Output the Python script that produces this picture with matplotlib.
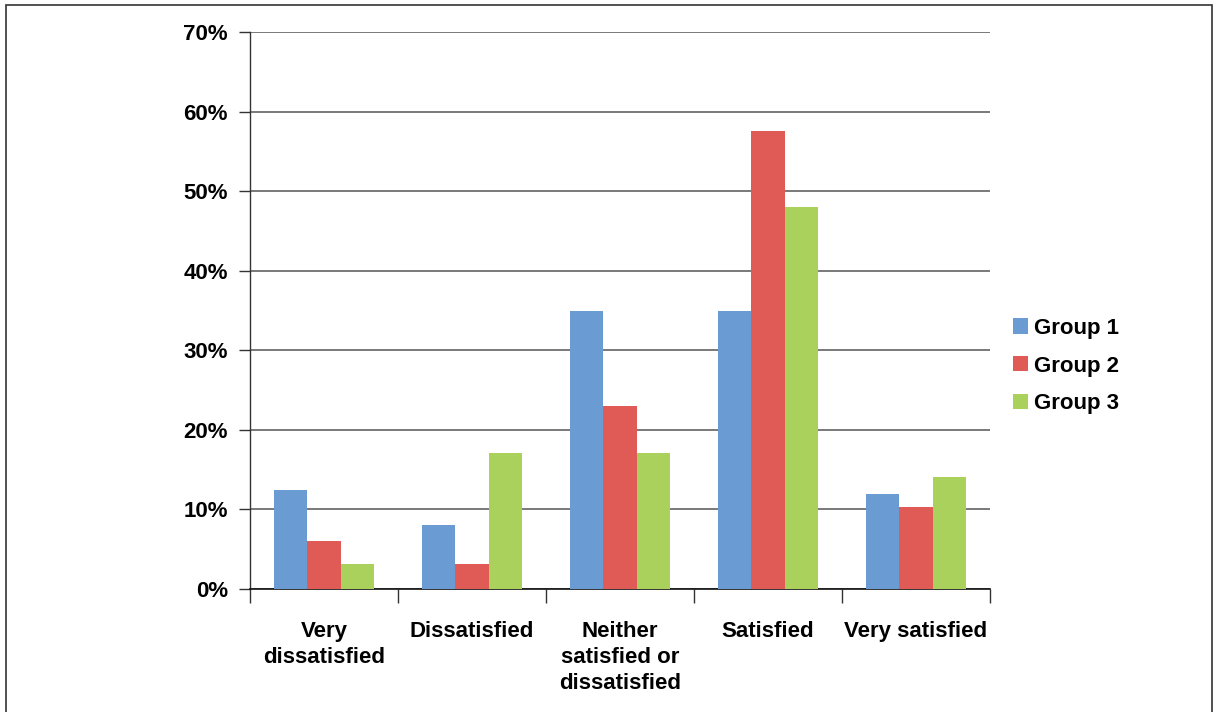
import matplotlib
matplotlib.use("Agg")
import matplotlib.pyplot as plt
import numpy as np
from matplotlib.patches import Rectangle, Patch

categories = ["Very\ndissatisfied", "Dissatisfied", "Neither\nsatisfied or\ndissatisfied", "Satisfied", "Very satisfied"]
series_names = ["Group 1", "Group 2", "Group 3"]
group1 = [12.4, 8.1, 35.0, 35.0, 11.9]
group2 = [6.0, 3.1, 23.0, 57.5, 10.25]
group3 = [3.1, 17.1, 17.1, 48.0, 14.1]
colors = ["#6A9BD3", "#E05A56", "#ABD15D"]
yticks = [0, 10, 20, 30, 40, 50, 60, 70]

plt.rcParams['font.family'] = ['Liberation Sans', 'DejaVu Sans']
plt.rcParams['font.weight'] = 'bold'

FS = 16
W, H = 1216, 712
fig = plt.figure(figsize=(W/100, H/100), dpi=100)
ax = fig.add_axes([250/W, 1-589/H, 740/W, (589-32)/H])

x = np.arange(len(categories))
w = 0.223
for i, (vals, c) in enumerate(zip([group1, group2, group3], colors)):
    ax.bar(x + (i-1)*w, vals, width=w, color=c, zorder=3, linewidth=0)

ax.set_xlim(-0.5, len(categories)-0.5)
ax.set_ylim(0, 70)
ax.set_yticks(yticks)
ax.set_yticklabels([f"{v}%" for v in yticks], fontsize=FS, fontweight='bold')
ax.yaxis.grid(True, color='#555555', linewidth=1.1, zorder=0)
ax.set_axisbelow(True)

ax.set_xticks(x)
ax.set_xticklabels(categories, fontsize=FS, fontweight='bold', linespacing=1.32, va='top')
ax.set_xticks(np.arange(-0.5, len(categories)), minor=True)
ax.tick_params(axis='x', which='major', length=0, pad=23)
ax.tick_params(axis='x', which='minor', length=10, width=1, color='#333333', direction='out')
ax.tick_params(axis='y', which='major', length=8, width=1, color='#333333', pad=8)

for s in ['top', 'right']:
    ax.spines[s].set_visible(False)
ax.spines['left'].set_color('#333333')
ax.spines['bottom'].set_color('#111111')
ax.spines['left'].set_linewidth(1)
ax.spines['bottom'].set_linewidth(1.2)

handles = [Patch(facecolor=c, edgecolor='none') for c in colors]
fig.legend(handles, series_names, loc='center left', bbox_to_anchor=(1013/W, 1-366/H),
           frameon=False, prop={'weight': 'bold', 'size': FS},
           handlelength=0.68, handleheight=0.68, handletextpad=0.25, labelspacing=0.75,
           borderpad=0, borderaxespad=0)

fig.patches.append(Rectangle((6/W, -0.05), (1212-6)/W, 1.05-5/H, transform=fig.transFigure,
                             fill=False, edgecolor='#333333', linewidth=1.2))

fig.savefig("out.png", dpi=100)
